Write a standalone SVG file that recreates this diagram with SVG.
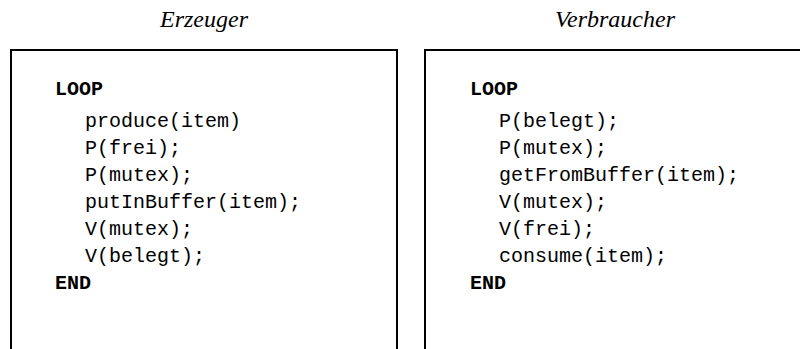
<svg xmlns="http://www.w3.org/2000/svg" width="800" height="349" viewBox="0 0 800 349">
<style>
.title{font-family:"Liberation Serif",serif;font-style:italic;font-size:24px;fill:#000;text-anchor:middle}
.code{font-family:"Liberation Mono",monospace;font-size:20px;fill:#000}
.kw{font-family:"Liberation Mono",monospace;font-size:20px;font-weight:bold;fill:#000}
.box{fill:none;stroke:#000;stroke-width:2}
</style>
<rect width="800" height="349" fill="#fff"/>
<g id="erzeuger">
<text class="title" x="204" y="27">Erzeuger</text>
<path class="box" d="M11,360 V50 H397 V360"/>
<text class="kw" x="55" y="95">LOOP</text>
<text class="code" x="85" y="127">produce(item)</text>
<text class="code" x="85" y="154">P(frei);</text>
<text class="code" x="85" y="181">P(mutex);</text>
<text class="code" x="85" y="208">putInBuffer(item);</text>
<text class="code" x="85" y="235">V(mutex);</text>
<text class="code" x="85" y="262">V(belegt);</text>
<text class="kw" x="55" y="289">END</text>
</g>
<g id="verbraucher">
<text class="title" x="615" y="27">Verbraucher</text>
<path class="box" d="M425,360 V50 H812 V360"/>
<text class="kw" x="470" y="95">LOOP</text>
<text class="code" x="499" y="127">P(belegt);</text>
<text class="code" x="499" y="154">P(mutex);</text>
<text class="code" x="499" y="181">getFromBuffer(item);</text>
<text class="code" x="499" y="208">V(mutex);</text>
<text class="code" x="499" y="235">V(frei);</text>
<text class="code" x="499" y="262">consume(item);</text>
<text class="kw" x="470" y="289">END</text>
</g>
<g id="connectors"/>
</svg>
